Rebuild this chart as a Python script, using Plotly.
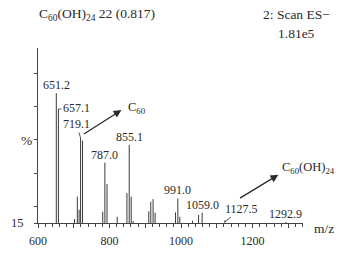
import plotly.graph_objects as go

# ---- data ----
peak_mz = [651.2, 657.1, 702.0, 710.0, 715.0, 719.1, 724.5, 781.0, 787.0, 793.0,
           821.5, 848.6, 855.1, 860.6, 866.0, 909.8, 915.4, 921.8, 927.5,
           984.6, 991.0, 996.6, 1032.0, 1049.0, 1059.0, 1122.7, 1292.9]
peak_int = [54.1, 49.3, 16.2, 22.9, 19.0, 40.6, 39.8, 18.4, 33.2, 26.7,
            16.9, 24.0, 38.5, 22.9, 15.6, 18.5, 21.4, 22.2, 18.1,
            18.2, 22.4, 16.9, 15.7, 17.4, 18.1, 15.8, 15.3]

label_mz = [651.2, 657.1, 719.1, 787.0, 855.1, 991.0, 1059.0, 1127.5, 1292.9]
label_txt = ["651.2", "657.1", "719.1", "787.0", "855.1", "991.0", "1059.0", "1127.5", "1292.9"]

x_ticks = [600, 700, 800, 900, 1000, 1100, 1200, 1300]
x_ticktext = ["600", "", "800", "", "1000", "", "1200", ""]
y_ticks = [15, 20, 30, 40, 50, 60]
y_ticktext = ["15", "", "", "", "", ""]

BASE = 15
FONT = "Liberation Serif"
INK = "#2a2a2a"

xs, ys = [], []
for m, h in zip(peak_mz, peak_int):
    xs += [m, m, None]
    ys += [BASE, h, None]

fig = go.Figure()
fig.add_trace(go.Scatter(x=xs, y=ys, mode="lines",
                         line=dict(color="#3a3a3a", width=1), hoverinfo="skip",
                         showlegend=False))

def peak_height(mz):
    best = min(range(len(peak_mz)), key=lambda i: abs(peak_mz[i] - mz))
    return peak_int[best]

ann = []
lab_font = dict(family=FONT, size=12, color=INK)
for mz, t in zip(label_mz, label_txt):
    h = peak_height(mz)
    if t == "657.1":
        ann.append(dict(x=mz, y=h, text=t, showarrow=True, arrowhead=0, arrowwidth=0.8,
                        arrowcolor=INK, ax=18, ay=-1, standoff=0, font=lab_font))
    elif t == "719.1":
        ann.append(dict(x=mz, y=h, text=t, showarrow=True, arrowhead=0, arrowwidth=0.8,
                        arrowcolor=INK, ax=-4, ay=-14, standoff=0, font=lab_font))
    elif t == "1127.5":
        ann.append(dict(x=1122.7, y=15.4, text=t, showarrow=True, arrowhead=0, arrowwidth=0.8,
                        arrowcolor=INK, ax=17, ay=-13, standoff=0, font=lab_font))
    elif t == "1292.9":
        ann.append(dict(x=mz, y=BASE, text=t, showarrow=False, yanchor="bottom",
                        yshift=0, font=lab_font))
    else:
        ann.append(dict(x=mz, y=h, text=t, showarrow=False, yanchor="bottom",
                        yshift=-1, font=lab_font))

# arrows to the species labels
ann.append(dict(x=833.3, y=49.0, ax=724.1, ay=41.5, axref="x", ayref="y",
                text="", showarrow=True, arrowhead=2, arrowsize=1.2, arrowwidth=1.3,
                arrowcolor=INK))
ann.append(dict(x=845.4, y=49.5, text="C<sub>60</sub>", showarrow=False,
                xanchor="left", font=dict(family=FONT, size=12.5, color=INK)))
ann.append(dict(x=1272.0, y=29.5, ax=1160.7, ay=22.2, axref="x", ayref="y",
                text="", showarrow=True, arrowhead=2, arrowsize=1.2, arrowwidth=1.3,
                arrowcolor=INK))
ann.append(dict(x=1276.7, y=31.5, text="C<sub>60</sub>(OH)<sub>24</sub>", showarrow=False,
                xanchor="left", font=dict(family=FONT, size=12.5, color=INK)))

# header texts
hdr = dict(family=FONT, size=13.5, color=INK)
ann.append(dict(xref="paper", yref="paper", x=-0.002, y=1.189, xanchor="left",
                yanchor="middle", showarrow=False,
                text="C<sub>60</sub>(OH)<sub>24</sub> 22 (0.817)", font=hdr))
ann.append(dict(xref="paper", yref="paper", x=0.977, y=1.189, xanchor="center",
                yanchor="middle", showarrow=False, text="2: Scan ES\u2212", font=hdr))
ann.append(dict(xref="paper", yref="paper", x=0.976, y=1.084, xanchor="center",
                yanchor="middle", showarrow=False, text="1.81e5", font=hdr))
ann.append(dict(xref="paper", yref="paper", x=-0.044, y=0.47, xanchor="center",
                yanchor="middle", showarrow=False, text="%", font=hdr))
ann.append(dict(xref="paper", yref="paper", x=1.079, y=-0.03, xanchor="center",
                yanchor="middle", showarrow=False, text="m/z", font=hdr))

fig.update_layout(
    width=359, height=253,
    margin=dict(l=38, r=56, t=48, b=30, pad=0, autoexpand=False),
    paper_bgcolor="white", plot_bgcolor="white",
    annotations=ann,
    font=dict(family=FONT, color=INK),
    xaxis=dict(range=[600, 1341], showgrid=False, zeroline=False, automargin=False,
               showline=True, linecolor="#444", linewidth=1,
               tickmode="array", tickvals=x_ticks, ticktext=x_ticktext,
               ticks="outside", ticklen=4, tickcolor="#444", tickwidth=1,
               minor=dict(dtick=20, tick0=600, ticks="outside", ticklen=3,
                          tickcolor="#444", tickwidth=1, showgrid=False),
               tickfont=dict(family=FONT, size=12, color=INK),
               ticklabelstandoff=3),
    yaxis=dict(range=[BASE, 67.7], showgrid=False, zeroline=False, automargin=False,
               showline=True, linecolor="#444", linewidth=1,
               tickmode="array", tickvals=y_ticks, ticktext=y_ticktext,
               ticks="outside", ticklen=3, tickcolor="#444", tickwidth=1,
               tickfont=dict(family=FONT, size=12.5, color=INK),
               ticklabelstandoff=8),
)

fig.write_html("out.html",
               config={"displayModeBar": False, "staticPlot": True},
               post_script="document.body.style.margin='0';document.body.style.overflow='hidden';")
